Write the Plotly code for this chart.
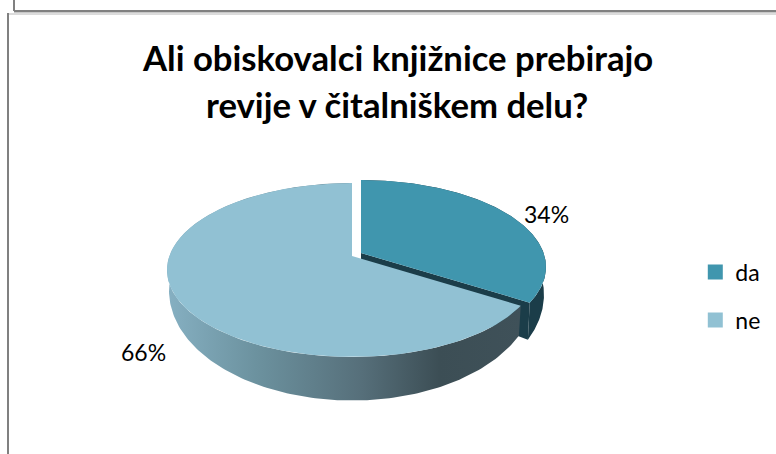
import numpy as np
import plotly.graph_objects as go

categories = ["da", "ne"]
shares = [34, 66]
labels = ["34%", "66%"]
colors = ["#4096AE", "#91C1D3"]
title_lines = ["Ali obiskovalci knjižnice prebirajo", "revije v čitalniškem delu?"]

FONT = "Lato, Carlito, Calibri, sans-serif"
cx, cy = 352, 256
A, B, K = 182.6, 84.7, 0.161
A2, B2, K2, cy2 = 180.6, 107.0, 0.161, 273.0
DA_DX, DA_DY, DA_DY2 = 9, -3, 4


def arc(t0, t1, acoef, bcoef, k, yc, dx=0, dy=0, n=180):
    t = np.radians(np.linspace(t0, t1, n))
    u, v = np.sin(t), np.cos(t)
    d = 1 + k * v
    return cx + dx + acoef * u / d, yc + dy - bcoef * v / d


split = 360 * shares[0] / sum(shares)
fig = go.Figure()


def add_poly(x, y, color=None, **kw):
    fig.add_trace(go.Scatter(x=x, y=y, mode="lines", fill="toself",
                             fillcolor=color, line=dict(width=0, color="rgba(0,0,0,0)"),
                             hoverinfo="skip", showlegend=False, **kw))


# da: outer wall and cut face
tx, ty = arc(0, split, A, B, K, cy, DA_DX, DA_DY)
bx, by = arc(60, split, A2, B2, K2, cy2, DA_DX, DA_DY2)
add_poly(np.r_[tx, bx[::-1]], np.r_[ty, by[::-1]], "#1B3D49")
add_poly([cx + DA_DX, tx[-1], bx[-1], cx + DA_DX],
         [cy + DA_DY, ty[-1], by[-1], cy2 + DA_DY2], "#1B3D49")
add_poly(np.r_[cx + DA_DX, tx], np.r_[cy + DA_DY, ty], colors[0])

# ne: gradient wall, then top face
tx, ty = arc(split, 360, A, B, K, cy)
bx, by = arc(split, 300, A2, B2, K2, cy2)
fig.add_trace(go.Scatter(
    x=np.r_[tx, bx[::-1]], y=np.r_[ty, by[::-1]], mode="lines", fill="toself",
    fillgradient=dict(type="horizontal", colorscale=[
        [0, "#86B0C2"], [0.25, "#6C929F"], [0.55, "#566F7A"], [0.77, "#3C4E55"], [1, "#3F5159"]]),
    line=dict(width=0, color="rgba(0,0,0,0)"), hoverinfo="skip", showlegend=False))
add_poly(np.r_[cx, tx], np.r_[cy, ty], colors[1])

# legend entries
for c, name in zip(colors, categories):
    fig.add_trace(go.Scatter(x=[None], y=[None], mode="markers", name=name, legendgroup=name,
                             marker=dict(symbol="square", size=15, color=c)))

annotations = [
    dict(x=546, y=214, text=labels[0]),
    dict(x=143, y=352, text=labels[1]),
    dict(x=397, y=57, text=f"<b>{title_lines[0]}</b>"),
    dict(x=397, y=104, text=f"<b>{title_lines[1]}</b>"),
]
for i, a in enumerate(annotations):
    a.update(xref="x", yref="y", showarrow=False,
             font=dict(family=FONT, color="#000000", size=23 if i < 2 else 34.7))

shapes = []
for x0, y0, x1, y1, col, w in [
    (14, 0, 14, 11, "#808080", 2), (14, 11, 776, 11, "#808080", 2), (14, 12.5, 776, 12.5, "#C8C8C8", 1),
    (8, 14, 776, 14, "#B8B8B8", 1), (8, 13, 8, 454, "#808080", 2),
]:
    shapes.append(dict(type="line", xref="x", yref="y", x0=x0, y0=y0, x1=x1, y1=y1,
                       line=dict(color=col, width=w), layer="below"))

fig.update_layout(
    width=776, height=454, autosize=False,
    margin=dict(l=0, r=0, t=0, b=0),
    paper_bgcolor="white", plot_bgcolor="white",
    xaxis=dict(range=[0, 776], visible=False, fixedrange=True),
    yaxis=dict(range=[454, 0], visible=False, fixedrange=True),
    annotations=annotations, shapes=shapes,
    legend=dict(x=0.896, y=0.448, xanchor="left", yanchor="top",
                font=dict(family=FONT, size=23, color="#000000"),
                tracegroupgap=15, itemwidth=30, bgcolor="rgba(0,0,0,0)"),
)
fig.write_html("out.html", config=dict(displayModeBar=False),
               post_script="document.body.style.margin='0';document.body.style.overflow='hidden';")
